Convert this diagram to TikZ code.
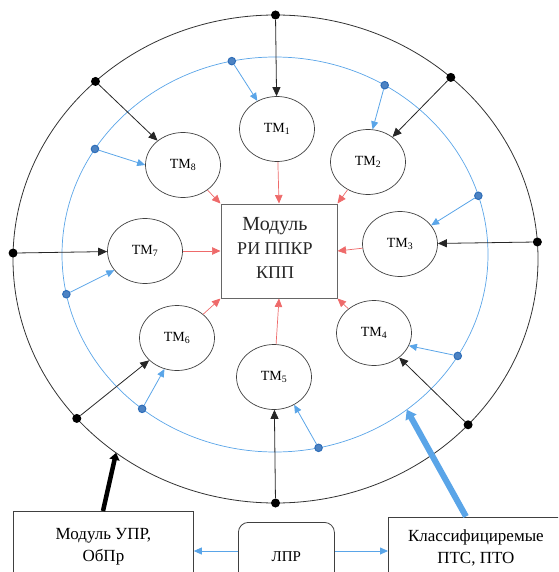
\documentclass[tikz,border=0pt]{standalone}
\usepackage{fontspec}
\setmainfont{Liberation Serif}
\usetikzlibrary{arrows.meta,shapes.geometric}
\definecolor{lblue}{HTML}{5AA5E8}
\definecolor{dblue}{HTML}{2E6DB8}
\definecolor{lred}{HTML}{EE6A6A}
\begin{document}
\begin{tikzpicture}[x=1pt,y=-1pt,
  tm/.style={ellipse, draw=black!75, line width=0.7pt, minimum width=75pt, minimum height=65pt, inner sep=0pt, font=\fontsize{14}{16}\selectfont},
  bdot/.style={circle, fill=black, inner sep=0pt, minimum size=9pt},
  ldot/.style={circle, fill=dblue!85, draw=dblue, line width=1pt, inner sep=0pt, minimum size=7.5pt},
  blk/.style={draw=black!85, line width=0.8pt, -{Triangle[length=9pt,width=8pt]}},
  blu/.style={draw=lblue, line width=0.8pt, -{Triangle[length=8pt,width=7pt]}},
  redarr/.style={draw=lred, line width=0.7pt, -{Triangle[length=8.5pt,width=7.5pt]}},
  bx/.style={draw=black!75, line width=0.8pt, inner sep=0pt, align=center, font=\fontsize{17}{22}\selectfont}
]
\useasboundingbox (0,0) rectangle (558,572);
\clip (0,0) rectangle (558,572);
% rings
\draw[black!80, line width=0.8pt] (275.5,259) ellipse [x radius=262.5, y radius=244];
\draw[lblue, line width=0.7pt] (275,254.5) ellipse [x radius=213, y radius=197.5];
% central module
\node[draw=black!60, line width=1pt, minimum width=116pt, minimum height=94pt] (mod) at (279,251) {};
\node[align=center, font=\fontsize{18}{24}\selectfont, text=black!85] (modtxt) at (275,248) {{\fontsize{20}{24}\selectfont Модуль}\\РИ ППКР\\КПП};
% TM nodes
\node[tm] (tm1) at (277,129) {TM\textsubscript{1}};
\node[tm] (tm2) at (368,162) {TM\textsubscript{2}};
\node[tm] (tm3) at (400,244) {TM\textsubscript{3}};
\node[tm] (tm4) at (374,333) {TM\textsubscript{4}};
\node[tm] (tm5) at (274,377) {TM\textsubscript{5}};
\node[tm] (tm6) at (177,338) {TM\textsubscript{6}};
\node[tm] (tm7) at (145,251) {TM\textsubscript{7}};
\node[tm] (tm8) at (183,165) {TM\textsubscript{8}};
% outer dots
\node[bdot] (o1) at ({275.5+262.5*cos(90)},{259-244*sin(90)}) {};
\node[bdot] (o2) at ({275.5+262.5*cos(48.1)},{259-244*sin(48.1)}) {};
\node[bdot] (o3) at ({275.5+262.5*cos(4)},{259-244*sin(4)}) {};
\node[bdot] (o4) at ({275.5+262.5*cos(-42.8)},{259-244*sin(-42.8)}) {};
\node[bdot] (o5) at ({275.5+262.5*cos(-90)},{259-244*sin(-90)}) {};
\node[bdot] (o6) at ({275.5+262.5*cos(-139.2)},{259-244*sin(-139.2)}) {};
\node[bdot] (o7) at ({275.5+262.5*cos(178.6)},{259-244*sin(178.6)}) {};
\node[bdot] (o8) at ({275.5+262.5*cos(133.3)},{259-244*sin(133.3)}) {};
% inner dots
\node[ldot] (i1) at ({275+213*cos(101.7)},{254.5-197.5*sin(101.7)}) {};
\node[ldot] (i2) at ({275+213*cos(59)},{254.5-197.5*sin(59)}) {};
\node[ldot] (i3) at ({275+213*cos(17.3)},{254.5-197.5*sin(17.3)}) {};
\node[ldot] (i4) at ({275+213*cos(-30.9)},{254.5-197.5*sin(-30.9)}) {};
\node[ldot] (i5) at ({275+213*cos(-78.2)},{254.5-197.5*sin(-78.2)}) {};
\node[ldot] (i6) at ({275+213*cos(-128.6)},{254.5-197.5*sin(-128.6)}) {};
\node[ldot] (i7) at ({275+213*cos(191.6)},{254.5-197.5*sin(191.6)}) {};
\node[ldot] (i8) at ({275+213*cos(147.7)},{254.5-197.5*sin(147.7)}) {};
% black arrows
\draw[blk] (o1) -- (tm1);
\draw[blk] (o2) -- (tm2);
\draw[blk] (o3) -- (tm3);
\draw[blk] (o4) -- (tm4);
\draw[blk] (o5) -- (tm5);
\draw[blk] (o6) -- (tm6);
\draw[blk] (o7) -- (tm7);
\draw[blk] (o8) -- (tm8);
% blue arrows
\draw[blu] (i1) -- (tm1.125);
\draw[blu] (i2) -- (tm2.82);
\draw[blu] (i3) -- (tm3.31);
\draw[blu] (i4) -- (tm4.-20);
\draw[blu] (i5) -- (tm5.-54);
\draw[blu] (i6) -- (tm6.-112);
\draw[blu] (i7) -- (tm7.212);
\draw[blu] (i8) -- (tm8.180);
% red arrows
\draw[redarr] (tm1) -- (mod.north);
\draw[redarr] (tm2) -- (mod.north east);
\draw[redarr] (tm3) -- (mod.east);
\draw[redarr] (tm4) -- (mod.south east);
\draw[redarr] (tm5) -- (mod.south);
\draw[redarr] (tm6) -- (mod.south west);
\draw[redarr] (tm7) -- (mod.west);
\draw[redarr] (tm8) -- (mod.north west);
% bottom boxes
\node[bx, minimum width=180pt, minimum height=70pt, anchor=north west] (upr) at (13,511) {Модуль УПР,\\ОбПр};
\node[bx, rounded corners=10pt, minimum width=96pt, minimum height=68pt, anchor=north west, font=\fontsize{15}{18}\selectfont] (lpr) at (238,522) {ЛПР};
\node[bx, minimum width=175pt, minimum height=62pt, anchor=north west] (pts) at (388,516.5) {Классифициремые\\ПТС, ПТО};
\draw[blu] (lpr.west |- 0,551) coordinate (l1) -- (upr.east |- 0,551);
\draw[blu] (lpr.east |- 0,551) coordinate (l2) -- (pts.west |- 0,551);
% thick arrows
\coordinate (ta0) at (103,511);
\coordinate (ta1) at ({275.5+262.5*cos(-127.4)},{259-244*sin(-127.4)});
\draw[black, line width=4.5pt, -{Triangle[length=7pt,width=10pt]}] (ta0) -- (ta1);
\coordinate (tb0) at (466,516.5);
\coordinate (tb1) at ({275+213*cos(-51.8)},{254.5-197.5*sin(-51.8)});
\draw[lblue, line width=6pt, -{Triangle[length=9pt,width=12pt]}] (tb0) -- (tb1);
\end{tikzpicture}
\end{document}
